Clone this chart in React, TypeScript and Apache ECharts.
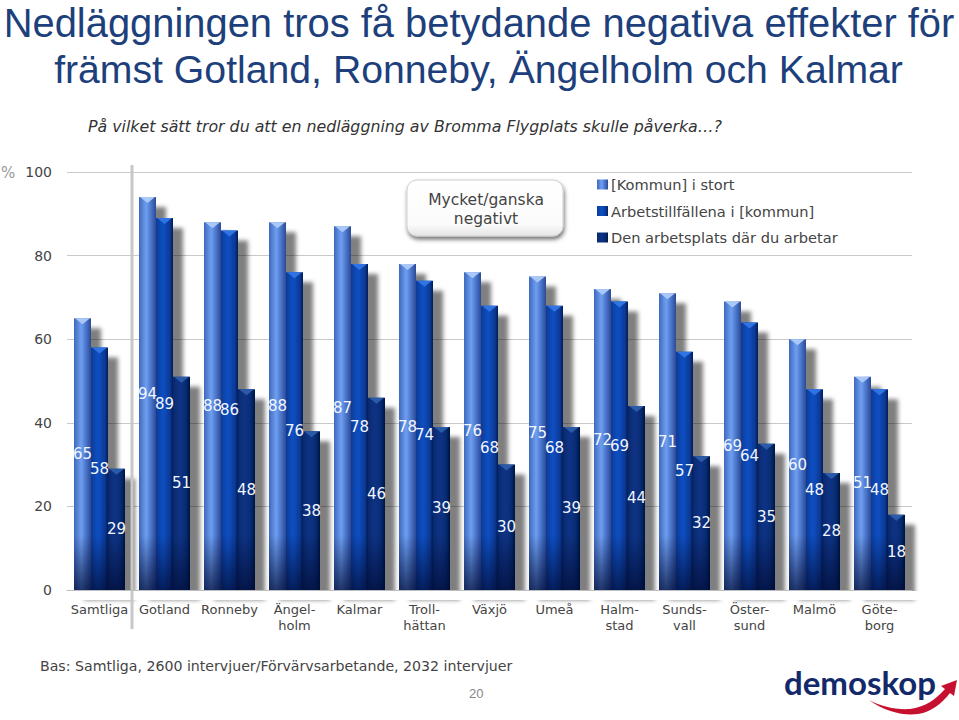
import React, { useEffect, useRef } from "react";
import * as echarts from "echarts";

const categories = ["Samtliga", "Gotland", "Ronneby", "Ängel-\nholm", "Kalmar", "Troll-\nhättan", "Växjö", "Umeå", "Halm-\nstad", "Sunds-\nvall", "Öster-\nsund", "Malmö", "Göte-\nborg"];
const seriesNames = ["[Kommun] i stort", "Arbetstillfällena i [kommun]", "Den arbetsplats där du arbetar"];
const stort = [65, 94, 88, 88, 87, 78, 76, 75, 72, 71, 69, 60, 51];
const arbetstillfallen = [58, 89, 86, 76, 78, 74, 68, 68, 69, 57, 64, 48, 48];
const arbetsplats = [29, 51, 48, 38, 46, 39, 30, 39, 44, 32, 35, 28, 18];
const allValues = [stort, arbetstillfallen, arbetsplats];

const edgeL = ["#3f68bd", "#0a3a96", "#062a6e"];
const centre = ["#6f9ff0", "#0d50c4", "#0a3386"];
const edgeR = ["#2d4a90", "#04205a", "#031640"];
const notch = ["#a9c8f8", "#2f74e2", "#2a5aa8"];

const BAR_W = 17;
const hGrad = (s: number) =>
  new echarts.graphic.LinearGradient(0, 0, 1, 0, [
    { offset: 0, color: edgeL[s] },
    { offset: 0.42, color: centre[s] },
    { offset: 0.8, color: edgeL[s] },
    { offset: 1, color: edgeR[s] },
  ]);

const overlayData: number[][] = [];
allValues.forEach((vals, s) => vals.forEach((v, c) => overlayData.push([c, v, s])));

echarts.graphic.registerShape(
  "swoosh",
  echarts.graphic.extendPath(
    "M869 700 C885 712 905 716 918 714 C932 712 942 703 950 693 L954 696 L957 680 L941 686 L945 689 C935 700 925 707 910 709 C895 710 880 706 869 700 Z",
    {}
  )
);

export default function App() {
  const ref = useRef<HTMLDivElement>(null);
  useEffect(() => {
    document.body.style.margin = "0";
    const chart = echarts.init(ref.current!, undefined, { renderer: "svg" });
    const bars = allValues.map((vals, s) => ({
      name: seriesNames[s],
      type: "bar",
      data: vals,
      barWidth: BAR_W,
      barGap: "0%",
      z: 2,
      itemStyle: {
        color: hGrad(s),
        shadowColor: "rgba(0,0,0,0.5)",
        shadowBlur: 4,
        shadowOffsetX: 10,
        shadowOffsetY: 10,
      },
    }));
    chart.setOption({
      animation: false,
      textStyle: { fontFamily: "DejaVu Sans" },
      grid: { left: 67, top: 172, width: 845, height: 418 },
      legend: {
        data: seriesNames,
        orient: "vertical",
        left: 597,
        top: 177,
        padding: 0,
        itemWidth: 11,
        itemHeight: 10,
        itemGap: 11.5,
        icon: "rect",
        selectedMode: false,
        textStyle: { fontFamily: "DejaVu Sans", fontSize: 14.6, color: "#444", padding: [0, 0, 0, -2] },
      },
      xAxis: {
        type: "category",
        data: categories,
        z: 5,
        axisTick: { show: false },
        axisLine: { show: true, lineStyle: { color: "#bdbdbd", width: 1 } },
        axisLabel: { interval: 0, margin: 11, fontFamily: "DejaVu Sans", fontSize: 13, lineHeight: 16, color: "#444" },
      },
      yAxis: {
        type: "value",
        min: 0,
        max: 100,
        interval: 20,
        axisLine: { show: false },
        axisTick: { show: false },
        axisLabel: { margin: 15, fontFamily: "DejaVu Sans", fontSize: 14, color: "#444" },
        splitLine: { lineStyle: { color: "#c9c9c9", width: 1 } },
      },
      graphic: [
        { type: "rect", z: 3, silent: true, shape: { x: 60, y: 591, width: 890, height: 9 }, style: { fill: "#fff" } },
        { type: "line", z: 4, silent: true, shape: { x1: 132, y1: 165, x2: 132, y2: 629 }, style: { stroke: "#c8c8c8", lineWidth: 3 } },
        { type: "text", z: 6, x: 479, y: 3, style: { text: "Nedläggningen tros få betydande negativa effekter för", fill: "#1d3f7c", font: "39.9px 'Liberation Sans'", align: "center" } },
        { type: "text", z: 6, x: 478.5, y: 50, style: { text: "främst Gotland, Ronneby, Ängelholm och Kalmar", fill: "#1d3f7c", font: "39.2px 'Liberation Sans'", align: "center" } },
        { type: "text", z: 6, x: 88, y: 118, style: { text: "På vilket sätt tror du att en nedläggning av Bromma Flygplats skulle påverka…?", fill: "#333", font: "italic 15.8px 'DejaVu Sans'" } },
        { type: "text", z: 6, x: 1, y: 165, style: { text: "%", fill: "#999", font: "15px 'DejaVu Sans'" } },
        {
          type: "rect", z: 6, shape: { x: 407, y: 180, width: 156, height: 56, r: 10 },
          style: {
            fill: new echarts.graphic.LinearGradient(0, 0, 0, 1, [
              { offset: 0, color: "#ffffff" },
              { offset: 0.8, color: "#fbfbfb" },
              { offset: 1, color: "#e4e4e4" },
            ]),
            stroke: "#cfcfcf",
            lineWidth: 1,
            shadowColor: "rgba(0,0,0,0.55)",
            shadowBlur: 4,
            shadowOffsetX: 1,
            shadowOffsetY: 3,
          },
        },
        { type: "text", z: 7, x: 486, y: 192, style: { text: "Mycket/ganska", fill: "#444", font: "15.5px 'DejaVu Sans'", align: "center" } },
        { type: "text", z: 7, x: 486, y: 211, style: { text: "negativt", fill: "#444", font: "15.5px 'DejaVu Sans'", align: "center" } },
        { type: "text", z: 6, x: 40, y: 659, style: { text: "Bas: Samtliga, 2600 intervjuer/Förvärvsarbetande, 2032 intervjuer", fill: "#444", font: "14.15px 'DejaVu Sans'" } },
        { type: "text", z: 6, x: 469, y: 687, style: { text: "20", fill: "#888", font: "13px 'Liberation Sans'" } },
        { type: "text", z: 6, x: 784, y: 665, style: { text: "demoskop", fill: "#12296a", font: "bold 33px Lato" } },
        { type: "swoosh", z: 6, x: 0, y: 0, style: { fill: "#c5112f" } },
      ],
      series: [
        ...bars,
        {
          type: "custom",
          silent: true,
          z: 3,
          data: overlayData,
          encode: { x: 0, y: 1 },
          renderItem: (_p: any, api: any) => {
            const c = api.value(0), v = api.value(1), s = api.value(2);
            const [cx, top] = api.coord([c, v]);
            const base = api.coord([c, 0])[1];
            const x = cx - (BAR_W * 3) / 2 + s * BAR_W;
            const fadeH = Math.min(base - top, 55);
            return {
              type: "group",
              children: [
                {
                  type: "rect",
                  shape: { x, y: base - fadeH, width: BAR_W, height: fadeH },
                  style: {
                    fill: new echarts.graphic.LinearGradient(0, 0, 0, 1, [
                      { offset: 0, color: "rgba(0,10,50,0)" },
                      { offset: 1, color: "rgba(0,10,50,0.7)" },
                    ]),
                  },
                },
                {
                  type: "polygon",
                  shape: { points: [[x + 1, top], [x + BAR_W - 1, top], [x + BAR_W / 2, top + 6]] },
                  style: { fill: notch[s] },
                },
              ],
            };
          },
        },
        {
          type: "custom",
          silent: true,
          z: 4,
          data: overlayData,
          encode: { x: 0, y: 1 },
          renderItem: (_p: any, api: any) => {
            const c = api.value(0), v = api.value(1), s = api.value(2);
            const [cx, top] = api.coord([c, v]);
            const base = api.coord([c, 0])[1];
            const x = cx - (BAR_W * 3) / 2 + s * BAR_W + BAR_W / 2;
            return {
              type: "text",
              x,
              y: (top + base) / 2,
              style: { text: String(v), fill: "#f2f6ff", font: "15px 'DejaVu Sans'", align: "center", verticalAlign: "middle" },
            };
          },
        },
      ],
    });
    return () => chart.dispose();
  }, []);
  return <div ref={ref} style={{ width: 959, height: 720 }} />;
}
